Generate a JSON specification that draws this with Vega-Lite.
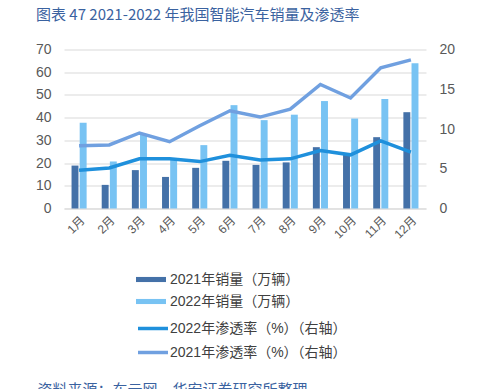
{
  "$schema": "https://vega.github.io/schema/vega-lite/v6.json",
  "autosize": {"type": "none"},
  "width": 362,
  "height": 159,
  "padding": {"left": 64, "top": 49.5, "right": 61, "bottom": 180.5},
  "background": "white",
  "title": {
    "text": "图表 47 2021-2022 年我国智能汽车销量及渗透率",
    "anchor": "start",
    "frame": "group",
    "dx": -28,
    "offset": 20,
    "fontSize": 15,
    "fontWeight": "normal",
    "font": "Noto Sans CJK SC",
    "color": "#3a62a0"
  },
  "config": {
    "view": {"stroke": null},
    "font": "Liberation Sans, Noto Sans CJK SC",
    "axis": {"labelColor": "#595959", "ticks": false, "domain": false, "gridColor": "#d9d9d9"}
  },
  "data": {
    "values": [
      {"month": "1月", "series": "2021年销量（万辆）", "kind": "bar", "value": 18.9},
      {"month": "2月", "series": "2021年销量（万辆）", "kind": "bar", "value": 10.4},
      {"month": "3月", "series": "2021年销量（万辆）", "kind": "bar", "value": 16.9},
      {"month": "4月", "series": "2021年销量（万辆）", "kind": "bar", "value": 13.9},
      {"month": "5月", "series": "2021年销量（万辆）", "kind": "bar", "value": 17.9},
      {"month": "6月", "series": "2021年销量（万辆）", "kind": "bar", "value": 21.0},
      {"month": "7月", "series": "2021年销量（万辆）", "kind": "bar", "value": 19.2},
      {"month": "8月", "series": "2021年销量（万辆）", "kind": "bar", "value": 20.3},
      {"month": "9月", "series": "2021年销量（万辆）", "kind": "bar", "value": 27.0},
      {"month": "10月", "series": "2021年销量（万辆）", "kind": "bar", "value": 23.6},
      {"month": "11月", "series": "2021年销量（万辆）", "kind": "bar", "value": 31.4},
      {"month": "12月", "series": "2021年销量（万辆）", "kind": "bar", "value": 42.4},
      {"month": "1月", "series": "2022年销量（万辆）", "kind": "bar", "value": 37.7},
      {"month": "2月", "series": "2022年销量（万辆）", "kind": "bar", "value": 20.7},
      {"month": "3月", "series": "2022年销量（万辆）", "kind": "bar", "value": 32.6},
      {"month": "4月", "series": "2022年销量（万辆）", "kind": "bar", "value": 21.5},
      {"month": "5月", "series": "2022年销量（万辆）", "kind": "bar", "value": 27.9},
      {"month": "6月", "series": "2022年销量（万辆）", "kind": "bar", "value": 45.5},
      {"month": "7月", "series": "2022年销量（万辆）", "kind": "bar", "value": 38.9},
      {"month": "8月", "series": "2022年销量（万辆）", "kind": "bar", "value": 41.3},
      {"month": "9月", "series": "2022年销量（万辆）", "kind": "bar", "value": 47.3},
      {"month": "10月", "series": "2022年销量（万辆）", "kind": "bar", "value": 39.6},
      {"month": "11月", "series": "2022年销量（万辆）", "kind": "bar", "value": 48.2},
      {"month": "12月", "series": "2022年销量（万辆）", "kind": "bar", "value": 64.0},
      {"month": "1月", "series": "2022年渗透率（%）（右轴）", "kind": "line", "value": 4.8},
      {"month": "2月", "series": "2022年渗透率（%）（右轴）", "kind": "line", "value": 5.1},
      {"month": "3月", "series": "2022年渗透率（%）（右轴）", "kind": "line", "value": 6.25},
      {"month": "4月", "series": "2022年渗透率（%）（右轴）", "kind": "line", "value": 6.25},
      {"month": "5月", "series": "2022年渗透率（%）（右轴）", "kind": "line", "value": 5.9},
      {"month": "6月", "series": "2022年渗透率（%）（右轴）", "kind": "line", "value": 6.7},
      {"month": "7月", "series": "2022年渗透率（%）（右轴）", "kind": "line", "value": 6.1},
      {"month": "8月", "series": "2022年渗透率（%）（右轴）", "kind": "line", "value": 6.25},
      {"month": "9月", "series": "2022年渗透率（%）（右轴）", "kind": "line", "value": 7.3},
      {"month": "10月", "series": "2022年渗透率（%）（右轴）", "kind": "line", "value": 6.75},
      {"month": "11月", "series": "2022年渗透率（%）（右轴）", "kind": "line", "value": 8.5},
      {"month": "12月", "series": "2022年渗透率（%）（右轴）", "kind": "line", "value": 7.1},
      {"month": "1月", "series": "2021年渗透率（%）（右轴）", "kind": "line", "value": 7.9},
      {"month": "2月", "series": "2021年渗透率（%）（右轴）", "kind": "line", "value": 8.0},
      {"month": "3月", "series": "2021年渗透率（%）（右轴）", "kind": "line", "value": 9.5},
      {"month": "4月", "series": "2021年渗透率（%）（右轴）", "kind": "line", "value": 8.4},
      {"month": "5月", "series": "2021年渗透率（%）（右轴）", "kind": "line", "value": 10.4},
      {"month": "6月", "series": "2021年渗透率（%）（右轴）", "kind": "line", "value": 12.3},
      {"month": "7月", "series": "2021年渗透率（%）（右轴）", "kind": "line", "value": 11.5},
      {"month": "8月", "series": "2021年渗透率（%）（右轴）", "kind": "line", "value": 12.5},
      {"month": "9月", "series": "2021年渗透率（%）（右轴）", "kind": "line", "value": 15.6},
      {"month": "10月", "series": "2021年渗透率（%）（右轴）", "kind": "line", "value": 13.9},
      {"month": "11月", "series": "2021年渗透率（%）（右轴）", "kind": "line", "value": 17.7},
      {"month": "12月", "series": "2021年渗透率（%）（右轴）", "kind": "line", "value": 18.7}
    ]
  },
  "encoding": {
    "x": {
      "field": "month",
      "type": "nominal",
      "sort": null,
      "scale": {"paddingInner": 0.5, "paddingOuter": 0.25},
      "axis": {
        "domain": true,
        "domainColor": "#d9d9d9",
        "labelAngle": -45,
        "labelFontSize": 12,
        "labelPadding": 6,
        "title": "资料来源：车云网，华安证券研究所整理",
        "titleFont": "Noto Sans CJK SC",
        "titleFontSize": 15,
        "titleFontWeight": "normal",
        "titleColor": "#3a62a0",
        "titleAnchor": "start",
        "titleAlign": "left",
        "titleBaseline": "middle",
        "titleX": -27,
        "titleY": 181
      }
    }
  },
  "layer": [
    {
      "transform": [{"filter": "datum.kind === 'bar'"}],
      "mark": {"type": "bar"},
      "encoding": {
        "xOffset": {"field": "series", "type": "nominal", "sort": null, "scale": {"paddingInner": 0.15}},
        "y": {
          "field": "value",
          "type": "quantitative",
          "scale": {"domain": [0, 70]},
          "axis": {"title": null, "values": [0, 10, 20, 30, 40, 50, 60, 70], "labelFontSize": 14, "labelPadding": 13, "grid": true}
        },
        "fill": {
          "field": "series",
          "type": "nominal",
          "sort": null,
          "scale": {"range": ["#4471a8", "#78c3f3"]},
          "legend": {
            "title": null,
            "orient": "none",
            "legendX": 72,
            "legendY": 215,
            "direction": "vertical",
            "labelFontSize": 14,
            "labelColor": "#404040",
            "labelLimit": 400,
            "labelOffset": 4,
            "rowPadding": -3,
            "symbolType": "M-1,-0.17H1V0.17H-1Z",
            "symbolSize": 900,
            "symbolStrokeWidth": 0
          }
        }
      }
    },
    {
      "transform": [{"filter": "datum.kind === 'line'"}],
      "mark": {"type": "line", "strokeWidth": 3.5},
      "encoding": {
        "y": {
          "field": "value",
          "type": "quantitative",
          "scale": {"domain": [0, 20]},
          "axis": {"title": null, "orient": "right", "values": [0, 5, 10, 15, 20], "labelFontSize": 14, "labelPadding": 13, "grid": false}
        },
        "stroke": {
          "field": "series",
          "type": "nominal",
          "sort": null,
          "scale": {"range": ["#1f90dc", "#70a0e0"]},
          "legend": {
            "title": null,
            "orient": "none",
            "legendX": 72,
            "legendY": 262,
            "direction": "vertical",
            "labelFontSize": 14,
            "labelColor": "#404040",
            "labelLimit": 400,
            "labelOffset": 0,
            "rowPadding": -3,
            "symbolType": "stroke",
            "symbolSize": 900,
            "symbolStrokeWidth": 3.5
          }
        }
      }
    }
  ],
  "resolve": {"scale": {"y": "independent", "xOffset": "independent"}}
}
